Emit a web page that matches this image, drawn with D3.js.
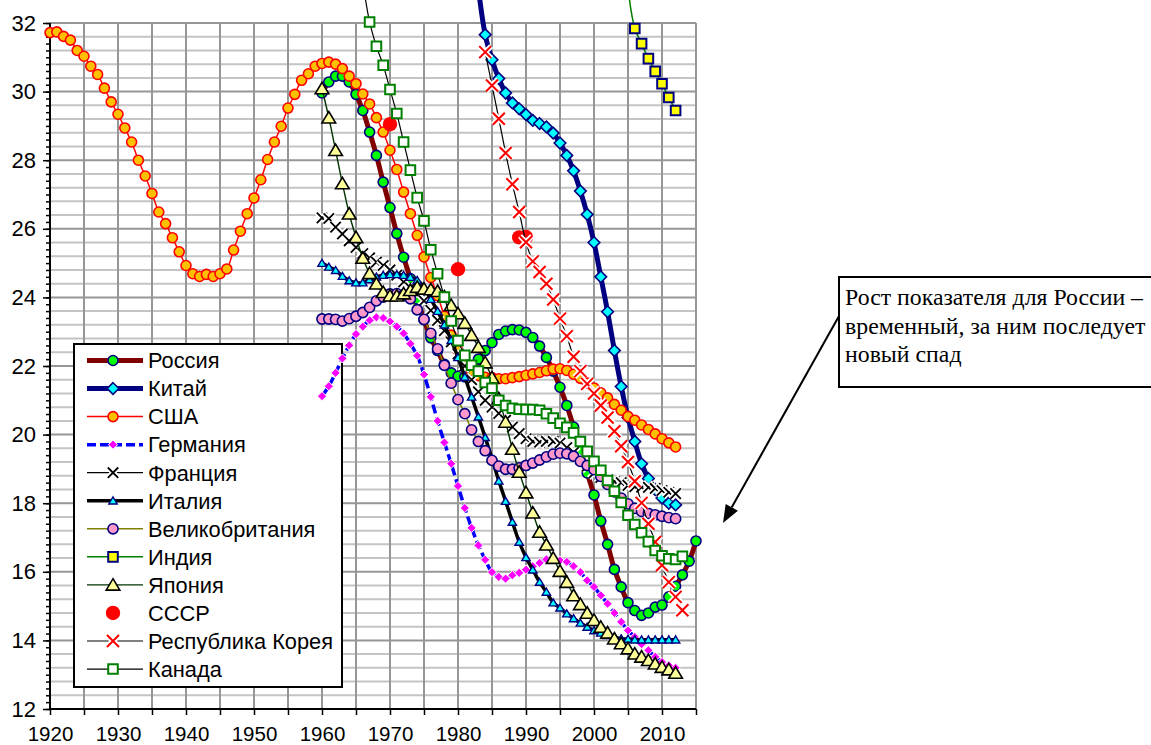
<!DOCTYPE html>
<html>
<head>
<meta charset="utf-8">
<script src="https://cdn.jsdelivr.net/npm/d3@7"></script>
<style>
  body { margin: 0; background: #fff; }
  svg { display: block; font-family: "Liberation Sans", Arial, sans-serif; }
</style>
</head>
<body>
<svg id="chart" width="1151" height="745"></svg>
<script>
// ticks
const xTicks = [1920, 1930, 1940, 1950, 1960, 1970, 1980, 1990, 2000, 2010];
const yTicks = [12, 14, 16, 18, 20, 22, 24, 26, 28, 30, 32];

const seriesNames = ['Россия', 'Китай', 'США', 'Германия', 'Франция', 'Италия',
  'Великобритания', 'Индия', 'Япония', 'СССР', 'Республика Корея', 'Канада'];

// annual series: first year + values
const russiaStart = 1960;
const russia = [29.96, 30.28, 30.45, 30.45, 30.28, 29.92, 29.45, 28.82, 28.14, 27.36,
  26.62, 25.86, 25.17, 24.55, 23.95, 23.35, 22.82, 22.45, 22.05, 21.8,
  21.7, 21.68, 21.85, 22.2, 22.45, 22.68, 22.92, 23.02, 23.06, 23.05,
  22.98, 22.83, 22.58, 22.25, 21.85, 21.38, 20.85, 20.22, 19.55, 18.88,
  18.24, 17.48, 16.8, 16.07, 15.56, 15.1, 14.87, 14.73, 14.8, 14.97,
  15.03, 15.27, 15.58, 15.91, 16.31, 16.9];

const chinaStart = 1983;
const china = [33.0, 31.66, 30.93, 30.38, 29.96, 29.67, 29.5, 29.33, 29.16, 29.07,
  28.97, 28.79, 28.5, 28.14, 27.69, 27.1, 26.42, 25.6, 24.6, 23.58,
  22.45, 21.4, 20.5, 19.8, 19.15, 18.72, 18.4, 18.15, 18.0, 17.95];

const usaStart = 1920;
const usa = [31.72, 31.74, 31.61, 31.5, 31.2, 31.03, 30.74, 30.5, 30.1, 29.7,
  29.34, 28.94, 28.53, 28.0, 27.54, 27.03, 26.49, 26.15, 25.74, 25.33,
  24.93, 24.69, 24.61, 24.67, 24.61, 24.69, 24.83, 25.38, 25.93, 26.44,
  26.9, 27.43, 28.02, 28.53, 28.99, 29.52, 29.92, 30.33, 30.52, 30.74,
  30.82, 30.86, 30.8, 30.67, 30.45, 30.23, 29.93, 29.64, 29.24, 28.82,
  28.29, 27.73, 27.07, 26.44, 25.81, 25.18, 24.58, 24.05, 23.45, 22.9,
  22.45, 22.1, 21.85, 21.72, 21.67, 21.66, 21.63, 21.63, 21.66, 21.69,
  21.73, 21.77, 21.81, 21.86, 21.91, 21.92, 21.87, 21.76, 21.64, 21.5,
  21.36, 21.22, 21.07, 20.88, 20.71, 20.53, 20.42, 20.28, 20.15, 20.02,
  19.88, 19.76, 19.64];

const germanyStart = 1960;
const germany = [21.12, 21.41, 21.8, 22.22, 22.6, 22.93, 23.15, 23.33, 23.42, 23.4,
  23.3, 23.15, 22.95, 22.65, 22.3, 21.75, 21.1, 20.4, 19.77, 19.15,
  18.5, 17.86, 17.28, 16.77, 16.35, 15.99, 15.85, 15.8, 15.9, 15.97,
  16.06, 16.16, 16.26, 16.36, 16.38, 16.33, 16.29, 16.16, 15.99, 15.75,
  15.56, 15.31, 15.07, 14.8, 14.54, 14.29, 14.1, 13.89, 13.71, 13.52,
  13.37, 13.27, 13.2];

const franceStart = 1960;
const france = [26.32, 26.3, 26.05, 25.85, 25.65, 25.46, 25.28, 25.15, 25.03, 24.93,
  24.8, 24.65, 24.45, 24.28, 24.12, 23.9, 23.62, 23.33, 23.03, 22.7,
  22.35, 22.0, 21.6, 21.25, 21.0, 20.8, 20.62, 20.42, 20.22, 20.03,
  19.88, 19.8, 19.78, 19.8, 19.8, 19.75, 19.62, 19.48, 19.3, 19.08,
  18.88, 18.75, 18.68, 18.63, 18.6, 18.52, 18.48, 18.47, 18.46, 18.43,
  18.37, 18.32, 18.28];

const italyStart = 1960;
const italy = [25.0, 24.89, 24.79, 24.62, 24.49, 24.43, 24.43, 24.52, 24.6, 24.65,
  24.67, 24.67, 24.65, 24.59, 24.5, 24.3, 23.95, 23.6, 23.2, 22.75,
  22.25, 21.68, 21.1, 20.52, 19.92, 19.3, 18.65, 18.06, 17.45, 16.87,
  16.42, 16.06, 15.7, 15.41, 15.1, 14.95, 14.78, 14.64, 14.51, 14.39,
  14.29, 14.22, 14.15, 14.1, 14.05, 14.04, 14.02, 14.02, 14.02, 14.02,
  14.02, 14.02, 14.02];

const ukStart = 1960;
const uk = [23.37, 23.37, 23.36, 23.31, 23.38, 23.45, 23.56, 23.71, 23.9, 24.01,
  24.1, 24.11, 24.07, 23.96, 23.64, 23.36, 22.95, 22.5, 22.02, 21.5,
  21.02, 20.61, 20.14, 19.8, 19.53, 19.25, 19.08, 18.99, 18.99, 19.03,
  19.1, 19.17, 19.26, 19.35, 19.43, 19.46, 19.44, 19.37, 19.22, 19.1,
  18.98, 18.78, 18.55, 18.33, 18.15, 17.98, 17.85, 17.76, 17.7, 17.66,
  17.62, 17.58, 17.55];

const indiaStart = 2005;
const india = [33.0, 31.84, 31.4, 30.96, 30.59, 30.23, 29.83, 29.45];

const japanStart = 1960;
const japan = [30.09, 29.24, 28.29, 27.32, 26.44, 25.75, 25.15, 24.7, 24.4, 24.15,
  24.05, 24.05, 24.11, 24.21, 24.3, 24.25, 24.23, 24.18, 24.02, 23.77,
  23.53, 23.25, 22.9, 22.55, 22.1, 21.66, 21.05, 20.37, 19.58, 18.91,
  18.31, 17.72, 17.16, 16.79, 16.4, 16.02, 15.7, 15.31, 15.05, 14.8,
  14.59, 14.39, 14.22, 14.05, 13.91, 13.76, 13.61, 13.52, 13.42, 13.32,
  13.22, 13.15, 13.05];

// USSR: separate points only
const ussrYears = [1970, 1980, 1989, 1990];
const ussr = [29.05, 24.82, 25.75, 25.76];

const koreaStart = 1984;
const korea = [31.15, 30.18, 29.21, 28.21, 27.3, 26.49, 25.61, 25.05, 24.74, 24.4,
  23.94, 23.38, 22.87, 22.27, 21.85, 21.48, 21.2, 20.85, 20.5, 20.1,
  19.66, 19.2, 18.64, 18.01, 17.4, 16.87, 16.19, 15.7, 15.27, 14.88];

const canadaStart = 1966;
const canada = [33.2, 32.03, 31.32, 30.77, 30.06, 29.36, 28.53, 27.71, 26.91, 26.23,
  25.39, 24.69, 24.01, 23.31, 22.74, 22.31, 22.02, 21.85, 21.52, 21.35,
  21.0, 20.85, 20.77, 20.74, 20.73, 20.73, 20.71, 20.61, 20.48, 20.33,
  20.21, 20.05, 19.8, 19.51, 19.22, 18.96, 18.66, 18.35, 18.02, 17.65,
  17.38, 17.14, 16.88, 16.62, 16.47, 16.38, 16.36, 16.45];

const annual = (start, vals) => vals.map((v, i) => ({year: start + i, value: v}));

const series = [
  {points: annual(russiaStart, russia), line: '#800000', lw: 5, marker: 'circle', size: 5, fill: '#00ff00', stroke: '#000080', sw: 1.6},
  {points: annual(chinaStart, china), line: '#000080', lw: 5, marker: 'diamond', size: 5.8, fill: '#00ffff', stroke: '#000080', sw: 1.6},
  {points: annual(usaStart, usa), line: '#ff0000', lw: 1.5, marker: 'circle', size: 5, fill: '#ffc000', stroke: '#ff0000', sw: 1.6},
  {points: annual(germanyStart, germany), line: '#0000ff', lw: 3.5, dash: '9,4', marker: 'diamond', size: 4.6, fill: '#ff00ff', stroke: '#ffffff', sw: 1},
  {points: annual(franceStart, france), line: '#000000', lw: 1.2, marker: 'x', size: 5.2, stroke: '#000000', sw: 1.8, halo: true},
  {points: annual(italyStart, italy), line: '#000000', lw: 3.5, marker: 'triangle', size: 3.8, fill: '#00ffff', stroke: '#000080', sw: 1.4},
  {points: annual(ukStart, uk), line: '#808000', lw: 1.5, marker: 'circle', size: 5.1, fill: '#ff99cc', stroke: '#000080', sw: 1.6},
  {points: annual(indiaStart, india), line: '#008000', lw: 1.5, marker: 'square', size: 4.8, fill: '#ffff00', stroke: '#000080', sw: 2},
  {points: annual(japanStart, japan), line: '#003300', lw: 1.4, marker: 'triangle', size: 6.2, fill: '#ffff99', stroke: '#000000', sw: 1.6},
  {points: ussrYears.map((yr, i) => ({year: yr, value: ussr[i]})), line: null, marker: 'circle', size: 7.2, fill: '#ff0000', stroke: 'none', sw: 0},
  {points: annual(koreaStart, korea), line: '#000000', lw: 1.2, marker: 'x', size: 6, stroke: '#ff0000', sw: 2, halo: true},
  {points: annual(canadaStart, canada), line: '#000000', lw: 1.2, marker: 'square', size: 4.8, fill: '#ffffff', stroke: '#008000', sw: 2}
];
series.forEach((s, i) => { s.name = seriesNames[i]; });

const svg = d3.select('#chart');
const margin = {top: 23, right: 455, bottom: 36, left: 50},
    width = +svg.attr('width') - margin.left - margin.right,
    height = +svg.attr('height') - margin.top - margin.bottom;

const g = svg.append('g')
  .attr('transform', 'translate(' + margin.left + ',' + margin.top + ')');

const x = d3.scaleLinear().domain([1920, 2015]).range([0, width]);
const y = d3.scaleLinear().domain([12, 32]).range([height, 0]);

// grid
const minorY = d3.range(1, 50).map(i => 12 + i * 0.4).filter((v, i) => (i + 1) % 5 !== 0);
g.append('g').selectAll('line').data(minorY).enter().append('line')
  .attr('x1', 0).attr('x2', width)
  .attr('y1', d => y(d)).attr('y2', d => y(d))
  .attr('stroke', '#c4c4c4').attr('stroke-width', 2);

g.append('g').selectAll('line').data(yTicks.slice(1)).enter().append('line')
  .attr('x1', 0).attr('x2', width)
  .attr('y1', d => y(d)).attr('y2', d => y(d))
  .attr('stroke', '#969696').attr('stroke-width', 2);

g.append('g').selectAll('line').data(d3.range(1925, 2016, 5)).enter().append('line')
  .attr('x1', d => x(d)).attr('x2', d => x(d))
  .attr('y1', 0).attr('y2', height)
  .attr('stroke', '#969696').attr('stroke-width', 2);

// axes
const yMinor = g.append('g')
  .call(d3.axisLeft(y).tickValues(d3.range(0, 101).map(i => 12 + i * 0.2)).tickSize(4).tickFormat(''));
const yAxis = g.append('g')
  .call(d3.axisLeft(y).tickValues(yTicks).tickSize(7).tickPadding(7).tickFormat(d3.format('d')));
const xAxis = g.append('g')
  .attr('transform', 'translate(0,' + height + ')')
  .call(d3.axisBottom(x).tickValues(d3.range(1920, 2016, 5)).tickSize(6)
    .tickFormat(d => xTicks.includes(d) ? d : ''));

[yMinor, yAxis, xAxis].forEach(a => {
  a.select('.domain').remove();
  a.selectAll('.tick line').attr('stroke', '#000').attr('stroke-width', 1.5);
});
yAxis.selectAll('text').attr('font-size', 22).attr('fill', '#000').attr('font-family', '"Liberation Sans", Arial, sans-serif');
xAxis.selectAll('text').attr('font-size', 20.5).attr('fill', '#000').attr('y', 32).attr('dy', 0)
  .attr('font-family', '"Liberation Sans", Arial, sans-serif');

g.append('line').attr('x1', 0).attr('x2', 0).attr('y1', 0).attr('y2', height)
  .attr('stroke', '#000').attr('stroke-width', 2);
g.append('line').attr('x1', 0).attr('x2', width).attr('y1', height).attr('y2', height)
  .attr('stroke', '#000').attr('stroke-width', 2);

// markers
function shapePath(type, h) {
  if (type === 'diamond') return `M0,${-h}L${h},0L0,${h}L${-h},0Z`;
  if (type === 'square') return `M${-h},${-h}H${h}V${h}H${-h}Z`;
  if (type === 'triangle') return `M0,${-h}L${h * 1.1},${h * 0.85}L${-h * 1.1},${h * 0.85}Z`;
  if (type === 'x') return `M${-h},${-h}L${h},${h}M${h},${-h}L${-h},${h}`;
  return '';
}

function drawMarker(sel, s) {
  if (s.marker === 'circle') {
    sel.append('circle').attr('r', s.size)
      .attr('fill', s.fill).attr('stroke', s.stroke).attr('stroke-width', s.sw);
  } else if (s.marker === 'x') {
    if (s.halo) {
      sel.append('path').attr('d', shapePath('x', s.size))
        .attr('stroke', '#fff').attr('stroke-width', s.sw + 3.5).attr('fill', 'none');
    }
    sel.append('path').attr('d', shapePath('x', s.size))
      .attr('stroke', s.stroke).attr('stroke-width', s.sw).attr('fill', 'none');
  } else {
    sel.append('path').attr('d', shapePath(s.marker, s.size))
      .attr('fill', s.fill).attr('stroke', s.stroke).attr('stroke-width', s.sw)
      .attr('stroke-linejoin', 'miter');
  }
}

// legend (sits under the series, Germany's first points overlap it)
const legend = svg.append('g');
legend.append('rect')
  .attr('x', 74).attr('y', 344).attr('width', 268).attr('height', 343)
  .attr('fill', '#fff').attr('stroke', '#000').attr('stroke-width', 2);

series.forEach((s, i) => {
  const cy = 360.5 + i * 28.05;
  const row = legend.append('g');
  if (s.line) {
    row.append('line').attr('x1', 87).attr('x2', 143).attr('y1', cy).attr('y2', cy)
      .attr('stroke', s.line).attr('stroke-width', s.lw)
      .attr('stroke-dasharray', s.dash || null);
  }
  const mk = row.append('g').attr('transform', 'translate(113,' + cy + ')');
  drawMarker(mk, s);
  row.append('text').attr('x', 148).attr('y', cy).attr('dy', '0.36em')
    .attr('font-size', 21.8).attr('fill', '#000')
    .text(s.name);
});

const line = d3.line()
  .x(d => x(d.year))
  .y(d => y(d.value))
  .curve(d3.curveCatmullRom.alpha(0.5));

const plot = svg.append('g')
  .attr('transform', 'translate(' + margin.left + ',' + margin.top + ')');
series.forEach(s => {
  const sg = plot.append('g');
  if (s.line) {
    sg.append('path').datum(s.points)
      .attr('d', line)
      .attr('fill', 'none')
      .attr('stroke', s.line)
      .attr('stroke-width', s.lw)
      .attr('stroke-dasharray', s.dash || null)
      .attr('stroke-linejoin', 'round');
  }
  sg.selectAll('.mk').data(s.points).enter().append('g')
    .attr('class', 'mk')
    .attr('transform', d => 'translate(' + x(d.year) + ',' + y(d.value) + ')')
    .each(function() { drawMarker(d3.select(this), s); });
});

// note
const note = svg.append('g');
note.append('rect')
  .attr('x', 839).attr('y', 277).attr('width', 330).attr('height', 110)
  .attr('fill', '#fff').attr('stroke', '#000').attr('stroke-width', 2);
const noteLines = ['Рост показателя для России –', 'временный, за ним последует', 'новый спад'];
note.selectAll('text').data(noteLines).enter().append('text')
  .attr('x', 845)
  .attr('y', (d, i) => 305 + i * 28.5)
  .attr('font-family', '"Liberation Serif", "Times New Roman", serif')
  .attr('font-size', 23.8)
  .attr('fill', '#000')
  .text(d => d);

const ax0 = 839, ay0 = 316, ax1 = 723, ay1 = 523;
const ang = Math.atan2(ay1 - ay0, ax1 - ax0);
const headLen = 18, headW = 7;
const bx = ax1 - headLen * Math.cos(ang), by = ay1 - headLen * Math.sin(ang);
note.append('line').attr('x1', ax0).attr('y1', ay0).attr('x2', bx).attr('y2', by)
  .attr('stroke', '#000').attr('stroke-width', 2);
note.append('path')
  .attr('d', `M${ax1},${ay1}L${bx + headW * Math.sin(ang)},${by - headW * Math.cos(ang)}L${bx - headW * Math.sin(ang)},${by + headW * Math.cos(ang)}Z`)
  .attr('fill', '#000');
</script>
</body>
</html>
